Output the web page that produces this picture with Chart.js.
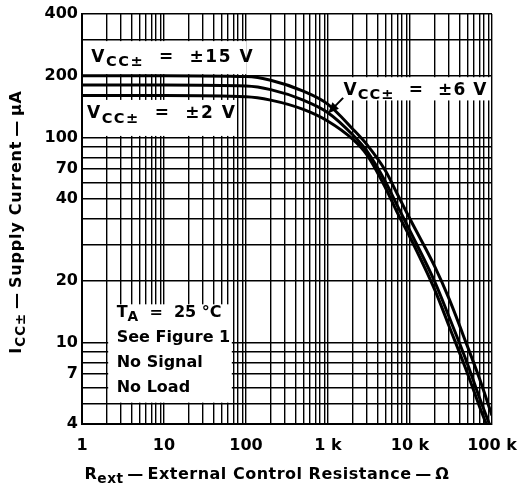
<!DOCTYPE html>
<html>
<head>
<meta charset="utf-8">
<script src="https://cdn.jsdelivr.net/npm/chart.js@4.4.1/dist/chart.umd.min.js"></script>
<style>
  html, body { margin: 0; padding: 0; background: #fff; }
</style>
</head>
<body>
<canvas id="icc" width="522" height="487"></canvas>
<script>
// Rext (ohms) and ICC± (µA)
const rext   = [1, 10, 100, 200, 500, 1000, 2000, 3000, 5000, 7000, 10000, 20000, 30000, 50000, 70000, 100000];
const icc15V = [200, 200, 198, 190, 168, 145, 110, 92, 69, 53, 40, 23.5, 16.3, 9.6, 6.7, 4.4];
const icc6V  = [180, 180, 178, 171, 152, 132, 103, 85.5, 61, 46.5, 35, 19.8, 13.3, 7.9, 5.4, 3.7];
const icc2V  = [160, 160, 158, 152, 137, 120, 98, 82, 57, 43, 32.6, 18.1, 12, 7.1, 4.9, 3.4];

const xTickValues = [1, 10, 100, 1000, 10000, 100000];
const xTickLabels = ['1', '10', '100', '1 k', '10 k', '100 k'];
// the printed figure puts "40" on the 50 gridline
const yTickValues = [4, 7, 10, 20, 50, 70, 100, 200, 400];
const yTickLabels = ['4', '7', '10', '20', '40', '70', '100', '200', '400'];

const FONT = '"DejaVu Sans", sans-serif';

// full log grid: 1..9 per decade
function logGrid(min, max) {
  const out = [];
  for (let e = Math.floor(Math.log10(min)); e <= Math.ceil(Math.log10(max)); e++) {
    for (let m = 1; m <= 9; m++) {
      const v = m * Math.pow(10, e);
      if (v >= min && v <= max) out.push(v);
    }
  }
  return out;
}

function series(ys) {
  return rext.map((r, i) => ({ x: r, y: ys[i] }));
}

// text with subscripts: parts = [[text, isSub], ...]
function setFont(ctx, size, sub, spacing) {
  ctx.font = 'bold ' + (sub ? size * 0.86 : size) + 'px ' + FONT;
  ctx.letterSpacing = (spacing || 0) + 'px';
}
function richWidth(ctx, parts, size, spacing) {
  let w = 0;
  for (const [t, sub] of parts) {
    setFont(ctx, size, sub, spacing);
    w += ctx.measureText(t).width;
  }
  return w;
}
function drawRich(ctx, parts, x, y, size, spacing) {
  let cx = x;
  ctx.textBaseline = 'middle';
  ctx.textAlign = 'left';
  for (const [t, sub] of parts) {
    setFont(ctx, size, sub, spacing);
    ctx.fillText(t, cx, y + (sub ? size * 0.28 : 0));
    cx += ctx.measureText(t).width;
  }
  ctx.letterSpacing = '0px';
}

// annotation boxes in data units: [xMin, xMax, yMin, yMax]
const notes = [
  { box: [1, 106, 200, 300], at: [1.3, 246], size: 17, spacing: 1.5,
    lines: [[['V'], ['CC±', 1], ['  =  ±15 V']]] },
  { box: [1, 80, 100, 155], at: [1.15, 130], size: 17, spacing: 1.5,
    lines: [[['V'], ['CC±', 1], ['  =  ±2 V']]] },
  { box: [1500, 100000, 149, 200], at: [1540, 170], size: 17, spacing: 1.1,
    lines: [[['V'], ['CC±', 1], ['  =  ±6 V']]] },
  { box: [2, 70, 5, 15.6], at: [2.65, 13.9], size: 16, spacing: 0, step: 25, lines: [
      [['T'], ['A', 1], ['  =  25 °C']],
      [['See Figure 1']],
      [['No Signal']],
      [['No Load']]
  ] }
];
const arrow = { from: [1530, 156], to: [1000, 131] };

const notesPlugin = {
  id: 'notes',
  beforeDatasetsDraw(chart) {
    const ctx = chart.ctx, xs = chart.scales.x, ys = chart.scales.y;
    ctx.save();
    for (const n of notes) {
      const x0 = xs.getPixelForValue(n.box[0]), x1 = xs.getPixelForValue(n.box[1]);
      const y0 = ys.getPixelForValue(n.box[2]), y1 = ys.getPixelForValue(n.box[3]);
      ctx.fillStyle = '#fff';
      ctx.fillRect(x0 + 1.5, y1 + 1.5, x1 - x0 - 3, y0 - y1 - 3);
      ctx.fillStyle = '#000';
      const tx = xs.getPixelForValue(n.at[0]);
      let ty = ys.getPixelForValue(n.at[1]);
      for (const line of n.lines) {
        drawRich(ctx, line, tx, ty, n.size, n.spacing);
        ty += n.step || 0;
      }
    }
    ctx.restore();
  },
  afterDatasetsDraw(chart) {
    const ctx = chart.ctx, xs = chart.scales.x, ys = chart.scales.y;
    const ax = xs.getPixelForValue(arrow.from[0]), ay = ys.getPixelForValue(arrow.from[1]);
    const bx = xs.getPixelForValue(arrow.to[0]), by = ys.getPixelForValue(arrow.to[1]);
    const ang = Math.atan2(by - ay, bx - ax);
    ctx.save();
    ctx.strokeStyle = '#000';
    ctx.fillStyle = '#000';
    ctx.lineWidth = 2;
    ctx.beginPath();
    ctx.moveTo(ax, ay);
    ctx.lineTo(bx - 8 * Math.cos(ang), by - 8 * Math.sin(ang));
    ctx.stroke();
    ctx.beginPath();
    ctx.moveTo(bx, by);
    ctx.lineTo(bx - 11 * Math.cos(ang) + 4.5 * Math.sin(ang), by - 11 * Math.sin(ang) - 4.5 * Math.cos(ang));
    ctx.lineTo(bx - 11 * Math.cos(ang) - 4.5 * Math.sin(ang), by - 11 * Math.sin(ang) + 4.5 * Math.cos(ang));
    ctx.closePath();
    ctx.fill();

    // axis titles (need subscripts, so drawn by hand)
    ctx.fillStyle = '#000';
    const xt = [['R'], ['ext', 1], ['\u2009\u2014\u2009External Control Resistance\u2009\u2014\u2009\u03A9']];
    const xw = richWidth(ctx, xt, 16, 0.5);
    drawRich(ctx, xt, 267 - xw / 2, 475, 16, 0.5);

    const yt = [['I'], ['CC±', 1], ['\u2009\u2014\u2009Supply Current\u2009\u2014\u2009\u03BCA']];
    const yw = richWidth(ctx, yt, 16, 0.8);
    ctx.translate(17, 222);
    ctx.rotate(-Math.PI / 2);
    drawRich(ctx, yt, -yw / 2, 0, 16, 0.8);
    ctx.restore();
  }
};

const lineStyle = {
  borderColor: '#000',
  borderWidth: 3,
  pointRadius: 0,
  fill: false,
  cubicInterpolationMode: 'monotone'
};

const axisCommon = {
  type: 'logarithmic',
  grid: { color: '#000', lineWidth: 1.4, drawTicks: false },
  border: { color: '#000', width: 2 },
  ticks: {
    color: '#000',
    font: { family: FONT, size: 16, weight: 'bold' },
    autoSkip: false,
    maxRotation: 0
  }
};

new Chart(document.getElementById('icc'), {
  type: 'line',
  data: {
    datasets: [
      Object.assign({ label: 'VCC± = ±15 V', data: series(icc15V) }, lineStyle),
      Object.assign({ label: 'VCC± = ±6 V', data: series(icc6V) }, lineStyle),
      Object.assign({ label: 'VCC± = ±2 V', data: series(icc2V) }, lineStyle)
    ]
  },
  options: {
    responsive: false,
    animation: false,
    devicePixelRatio: 1,
    layout: { padding: { top: 14, right: 30, left: 0, bottom: 0 } },
    plugins: { legend: { display: false }, tooltip: { enabled: false } },
    scales: {
      x: Object.assign({}, axisCommon, {
        min: 1, max: 100000,
        ticks: Object.assign({}, axisCommon.ticks, {
          padding: 12,
          callback: v => { const i = xTickValues.indexOf(v); return i >= 0 ? xTickLabels[i] : ''; }
        }),
        afterBuildTicks: a => { a.ticks = logGrid(1, 100000).map(v => ({ value: v })); },
        afterFit: a => { a.height = 63; a.paddingLeft = 0; a.paddingRight = 0; }
      }),
      y: Object.assign({}, axisCommon, {
        min: 4, max: 400,
        ticks: Object.assign({}, axisCommon.ticks, {
          padding: 4,
          callback: v => { const i = yTickValues.indexOf(v); return i >= 0 ? yTickLabels[i] : ''; }
        }),
        afterBuildTicks: a => { a.ticks = logGrid(4, 400).map(v => ({ value: v })); },
        afterFit: a => { a.width = 82; a.paddingTop = 0; a.paddingBottom = 0; }
      })
    }
  },
  plugins: [notesPlugin]
});
</script>
</body>
</html>
